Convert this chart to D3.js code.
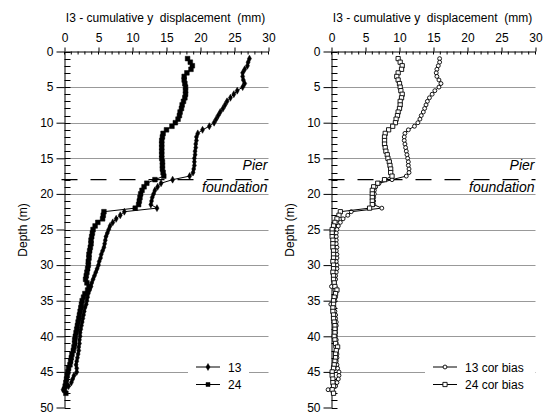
<!DOCTYPE html>
<html>
<head>
<meta charset="utf-8">
<script src="https://cdn.jsdelivr.net/npm/d3@7"></script>
<style>
body { margin: 0; background: #fff; }
svg text { font-family: Arial, "Liberation Sans", sans-serif; fill: #000; }
</style>
</head>
<body>
<div id="chart"></div>
<script>
// depth stations (m)
const depths = [
  1, 1.5, 2, 2.5, 3, 3.5, 4, 4.5, 5, 5.5,
  6, 6.5, 7, 7.5, 8, 8.5, 9, 9.5, 10, 10.5,
  11, 11.5, 12, 12.5, 13, 13.5, 14, 14.5, 15, 15.5,
  16, 16.5, 17, 17.5, 18, 18.5, 19, 19.5, 20, 20.5,
  21, 21.5, 22, 22.5, 23, 23.5, 24, 24.5, 25, 25.5,
  26, 26.5, 27, 27.5, 28, 28.5, 29, 29.5, 30, 30.5,
  31, 31.5, 32, 32.5, 33, 33.5, 34, 34.5, 35, 35.5,
  36, 36.5, 37, 37.5, 38, 38.5, 39, 39.5, 40, 40.5,
  41, 41.5, 42, 42.5, 43, 43.5, 44, 44.5, 45, 45.5,
  46, 46.5, 47, 47.5, 48
];

// left panel: readings 13 and 24 (mm)
const disp13 = [
  27.2, 27.0, 26.9, 26.5, 26.2, 26.2, 26.3, 26.5, 26.2, 25.4,
  24.9, 24.4, 23.9, 23.6, 23.3, 22.9, 22.6, 22.3, 22.0, 21.3,
  20.3, 19.6, 19.4, 19.4, 19.3, 19.3, 19.2, 19.2, 19.1, 19.1,
  19.1, 19.0, 18.9, 18.4, 15.9, 14.2, 13.7, 13.3, 13.1, 12.9,
  12.8, 12.7, 13.6, 8.8, 8.2, 7.6, 7.1, 6.7, 6.5, 6.3,
  6.1, 6.0, 5.9, 5.8, 5.6, 5.4, 5.3, 5.1, 5.0, 4.8,
  4.6, 4.4, 4.2, 4.0, 3.9, 3.7, 3.5, 3.4, 3.3, 3.2,
  3.0, 2.9, 2.8, 2.7, 2.6, 2.5, 2.4, 2.3, 2.3, 2.2,
  2.2, 2.1, 2.1, 2.0, 1.9, 1.8, 1.7, 1.8, 1.8, 1.4,
  1.2, 1.0, 0.6, -0.2
];
const disp24 = [
  18.1, 18.5, 18.8, 18.6, 18.0, 17.6, 17.6, 17.7, 17.8, 17.8,
  17.8, 17.7, 17.5, 17.3, 17.2, 17.0, 16.9, 16.7, 16.3, 15.8,
  15.0, 14.5, 14.4, 14.3, 14.3, 14.3, 14.3, 14.3, 14.3, 14.4,
  14.4, 14.4, 14.5, 14.6, 13.3, 12.1, 11.7, 11.4, 11.2, 11.1,
  11.0, 10.9, 10.4, 5.8, 5.7, 5.6, 4.9, 4.5, 4.2, 4.1,
  4.0, 3.9, 3.9, 3.8, 3.7, 3.6, 3.6, 3.5, 3.5, 3.4,
  3.3, 3.2, 3.1, 3.3, 3.6, 3.4, 3.0, 2.8, 2.6, 2.5,
  2.4, 2.3, 2.2, 2.1, 2.0, 1.9, 1.8, 1.7, 1.6, 1.5,
  1.5, 1.4, 1.3, 1.1, 1.0, 0.9, 0.8, 0.6, 0.5, 0.4,
  0.3, 0.2, 0.1, 0.0, 0.2
];

// right panel: bias corrected readings (mm)
const disp13cor = [
  15.9, 15.9, 15.7, 15.5, 15.4, 15.5, 15.8, 16.1, 15.8, 15.2,
  14.8, 14.4, 14.1, 13.9, 13.7, 13.5, 13.2, 13.0, 12.7, 12.2,
  11.3, 10.8, 10.7, 10.7, 10.8, 10.9, 11.0, 11.1, 11.2, 11.3,
  11.3, 11.4, 11.4, 11.0, 8.9, 7.0, 6.5, 6.3, 6.3, 6.2,
  6.2, 6.2, 7.4, 2.9, 2.4, 1.7, 1.3, 1.0, 0.8, 0.7,
  0.7, 0.7, 0.7, 0.8, 0.7, 0.8, 0.8, 0.7, 0.8, 0.8,
  0.7, 0.6, 0.6, 0.4, 0.0, 0.5, 0.6, 0.6, 0.5, -0.1,
  0.4, 0.5, 0.6, 0.6, 0.7, 0.7, 0.6, 0.6, 0.6, 0.7,
  0.7, 0.6, 0.7, 0.8, 0.8, 0.7, 0.8, 0.9, 1.1, 1.1,
  1.0, 0.8, 0.6, -0.5
];
const disp24cor = [
  9.8, 10.1, 10.4, 10.3, 9.8, 9.6, 9.8, 10.0, 10.1, 10.2,
  10.4, 10.3, 10.1, 10.1, 10.0, 9.8, 9.7, 9.5, 9.4, 9.0,
  8.4, 7.9, 7.8, 7.8, 7.8, 7.9, 8.0, 8.2, 8.3, 8.5,
  8.6, 8.7, 8.7, 8.9, 7.8, 6.8, 6.2, 6.0, 6.0, 6.0,
  6.0, 6.0, 5.6, 1.3, 1.1, 0.8, 0.5, 0.3, 0.1, 0.1,
  0.1, 0.2, 0.2, 0.2, 0.3, 0.3, 0.3, 0.2, 0.3, 0.3,
  0.2, 0.3, 0.3, 0.4, 0.5, 0.8, 0.6, 0.4, 0.3, 0.3,
  0.2, 0.2, 0.3, 0.3, 0.4, 0.5, 0.5, 0.5, 0.4, 0.5,
  0.6, 0.9, 0.7, 0.6, 0.6, 0.5, 0.4, 0.3, 0.1, 0.1,
  0.2, 0.2, 0.3, 0.1, 0.3
];

const xTicks = [0, 5, 10, 15, 20, 25, 30];
const yTicks = [0, 5, 10, 15, 20, 25, 30, 35, 40, 45, 50];
const gridDepths = [5, 10, 15, 20, 25, 30, 35, 40, 45];
const titleText = "I3 - cumulative y  displacement  (mm)";
const pierDepth = 18;

var svg = d3.select("#chart").append("svg")
    .attr("width", 549)
    .attr("height", 414);

var drawPanel = function(left, series, legendBox){

    const x = d3.scaleLinear().domain([0, 30]).range([left, left + 204]);
    const y = d3.scaleLinear().domain([0, 50]).range([51.5, 407.5]);

    let g = svg.append("g");

    // grid
    g.selectAll(".grid")
        .data(gridDepths)
        .enter()
        .append("line")
        .attr("x1", x(0)).attr("x2", x(30))
        .attr("y1", d => Math.round(y(d)) + 0.5)
        .attr("y2", d => Math.round(y(d)) + 0.5)
        .attr("stroke", "#999")
        .attr("stroke-width", 1);

    // axes
    let xAxis = g.append("g")
        .attr("transform", `translate(0,${y(0)})`)
        .call(d3.axisTop(x).tickValues(xTicks).tickSizeInner(4).tickSizeOuter(0).tickPadding(6));
    let yAxis = g.append("g")
        .attr("transform", `translate(${x(0)},0)`)
        .call(d3.axisLeft(y).tickValues(yTicks).tickSizeInner(8).tickSizeOuter(0).tickPadding(3));
    [xAxis, yAxis].forEach(a => {
        a.attr("font-family", null).attr("font-size", 12);
        a.selectAll("path, line").attr("stroke", "#000");
    });

    g.selectAll(".xminor")
        .data(d3.range(0, 31))
        .enter()
        .append("line")
        .attr("x1", d => x(d)).attr("x2", d => x(d))
        .attr("y1", y(0)).attr("y2", y(0) + 3)
        .attr("stroke", "#000");

    g.selectAll(".yminor")
        .data(d3.range(0, 51))
        .enter()
        .append("line")
        .attr("x1", x(0)).attr("x2", x(0) + 6)
        .attr("y1", d => Math.round(y(d)) + 0.5)
        .attr("y2", d => Math.round(y(d)) + 0.5)
        .attr("stroke", "#000");

    // titles
    g.append("text")
        .attr("x", x(15) - 1)
        .attr("y", 21.5)
        .attr("text-anchor", "middle")
        .attr("font-size", 12)
        .style("white-space", "pre")
        .text(titleText);

    g.append("text")
        .attr("transform", `translate(${x(0) - 38},230) rotate(-90)`)
        .attr("text-anchor", "middle")
        .attr("font-size", 12)
        .text("Depth (m)");

    // pier foundation level
    g.append("line")
        .attr("x1", x(0) - 3).attr("x2", x(30))
        .attr("y1", y(pierDepth)).attr("y2", y(pierDepth))
        .attr("stroke", "#000")
        .attr("stroke-width", 1.3)
        .attr("stroke-dasharray", "16,13");

    g.append("text")
        .attr("x", x(30) - 1).attr("y", 170)
        .attr("text-anchor", "end")
        .attr("font-size", 14)
        .attr("font-style", "italic")
        .text("Pier");
    g.append("text")
        .attr("x", x(30) - 1).attr("y", 192)
        .attr("text-anchor", "end")
        .attr("font-size", 14)
        .attr("font-style", "italic")
        .text("foundation");

    // series
    const line = d3.line().x(d => x(d.v)).y(d => y(d.d));

    series.forEach(s => {
        let pts = s.values.map((v, i) => ({d: depths[i], v: v}));
        g.append("path")
            .datum(pts)
            .attr("d", line)
            .attr("fill", "none")
            .attr("stroke", "#000")
            .attr("stroke-width", 1);
        g.selectAll(null)
            .data(pts)
            .enter()
            .append("path")
            .attr("transform", d => `translate(${x(d.v)},${y(d.d)})`)
            .attr("d", s.symbol)
            .attr("fill", s.fill)
            .attr("stroke", "#000")
            .attr("stroke-width", s.fill === "#000" ? 0.5 : 0.9);
    });

    // legend
    g.append("rect")
        .attr("x", legendBox.x0).attr("y", 358)
        .attr("width", legendBox.x1 - legendBox.x0).attr("height", 34)
        .attr("fill", "#fff");

    series.forEach((s, i) => {
        let ly = 367 + i * 17.5;
        g.append("line")
            .attr("x1", legendBox.lx).attr("x2", legendBox.lx + 24)
            .attr("y1", ly).attr("y2", ly)
            .attr("stroke", "#000");
        g.append("path")
            .attr("transform", `translate(${legendBox.lx + 12},${ly})`)
            .attr("d", s.legendSymbol || s.symbol)
            .attr("fill", s.fill)
            .attr("stroke", "#000")
            .attr("stroke-width", s.fill === "#000" ? 0.5 : 0.9);
        g.append("text")
            .attr("x", legendBox.lx + 32).attr("y", ly + 4.5)
            .attr("font-size", 12)
            .text(s.name);
    });
}

const diamond = d3.symbol(d3.symbolDiamond, 14)();
const squareFilled = d3.symbol(d3.symbolSquare, 22)();
const squareOpen = d3.symbol(d3.symbolSquare, 18)();
const circleOpen = d3.symbol(d3.symbolCircle, 12)();

drawPanel(64.5, [
    {name: "13", values: disp13, symbol: diamond, fill: "#000"},
    {name: "24", values: disp24, symbol: squareFilled, fill: "#000", legendSymbol: d3.symbol(d3.symbolSquare, 16)()}
], {x0: 188, x1: 249, lx: 196});

drawPanel(331.5, [
    {name: "13 cor bias", values: disp13cor, symbol: circleOpen, fill: "#fff"},
    {name: "24 cor bias", values: disp24cor, symbol: squareOpen, fill: "#fff"}
], {x0: 425, x1: 535, lx: 433});
</script>
</body>
</html>
